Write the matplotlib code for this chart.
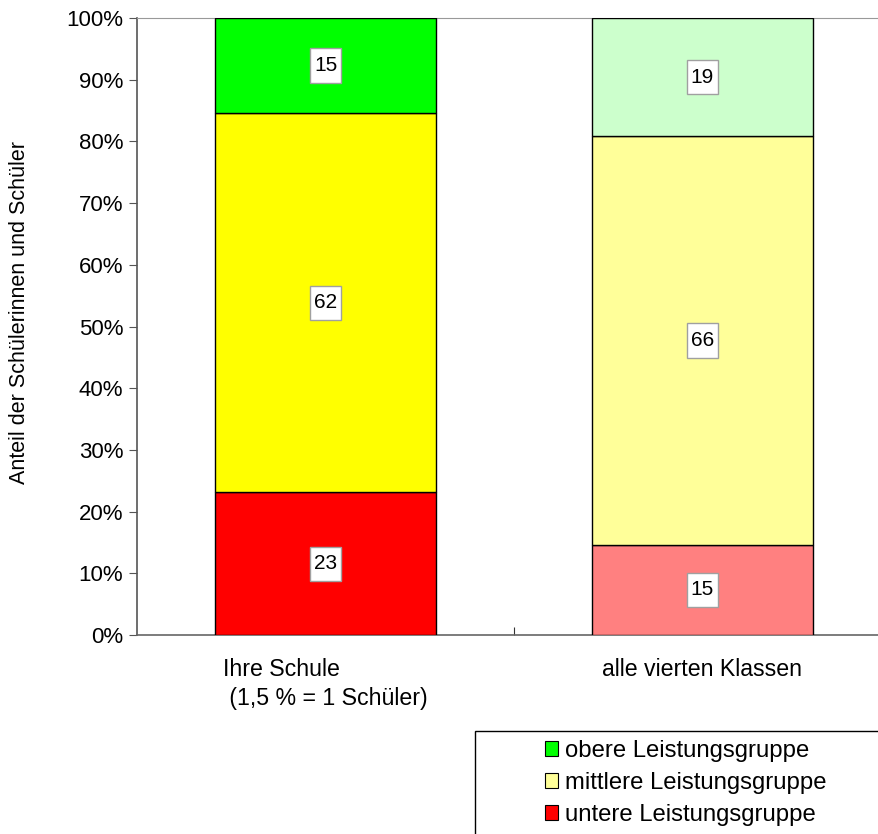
import matplotlib
matplotlib.use("Agg")
import matplotlib.pyplot as plt
from matplotlib.patches import Patch, Rectangle
from matplotlib.path import Path

plt.rcParams['font.family'] = ['Liberation Sans', 'DejaVu Sans']

categories = ["Ihre Schule\n (1,5 % = 1 Schüler)", "alle vierten Klassen"]
series_names = ["untere Leistungsgruppe", "mittlere Leistungsgruppe", "obere Leistungsgruppe"]
untere = [23.1, 14.6]
mittlere = [61.5, 66.2]
obere = [15.4, 19.2]
label_untere = ["23", "15"]
label_mittlere = ["62", "66"]
label_obere = ["15", "19"]
yticks = [0, 10, 20, 30, 40, 50, 60, 70, 80, 90, 100]
ytick_labels = [f"{v}%" for v in yticks]

colors_school = ["#FF0000", "#FFFF00", "#00FF00"]
colors_all = ["#FF8080", "#FFFF99", "#CCFFCC"]
legend_colors = {"obere Leistungsgruppe": "#00FF00",
                 "mittlere Leistungsgruppe": "#FFFF99",
                 "untere Leistungsgruppe": "#FF0000"}


def label_box(x0, y0, width, height, mutation_size):
    px = 0.19 * mutation_size
    py = 0.37 * mutation_size
    verts = [(x0 - px, y0 - py), (x0 + width + px, y0 - py),
             (x0 + width + px, y0 + height + py), (x0 - px, y0 + height + py),
             (x0 - px, y0 - py)]
    return Path(verts, closed=True)


W, H = 879, 834
fig = plt.figure(figsize=(W / 100, H / 100), dpi=100)
ax = fig.add_axes([137 / W, (H - 635) / H, (891 - 137) / W, (635 - 18) / H])

x = [0, 1]
width = 0.586
series = [untere, mittlere, obere]
labels = [label_untere, label_mittlere, label_obere]
for i in range(2):
    bottom = 0
    cols = colors_school if i == 0 else colors_all
    for s in range(3):
        val = series[s][i]
        ax.bar(x[i], val, width, bottom=bottom, color=cols[s], edgecolor="black",
               linewidth=1.0, zorder=3)
        bbox = dict(boxstyle=label_box, facecolor="white",
                    edgecolor="#A0A0A0", linewidth=1.0)
        ax.text(x[i], bottom + val / 2, labels[s][i], ha="center", va="center",
                fontsize=15, bbox=bbox, zorder=5)
        bottom += val

ax.set_xlim(-0.5, 1.5)
ax.set_ylim(0, 100)
ax.set_yticks(yticks)
ax.set_yticklabels(ytick_labels, fontsize=16)
ax.set_xticks([0.5])
ax.set_xticklabels([""])
ax.tick_params(axis="x", direction="in", length=6, color="#333333")
ax.tick_params(axis="y", direction="out", length=6, color="#555555", pad=4)
for i, c in enumerate(categories):
    ax.text(x[i], -3.8, c, ha="center", va="top", fontsize=16.7,
            multialignment="left", linespacing=1.3, transform=ax.transData)

ax.spines["left"].set_color("#555555")
ax.spines["left"].set_linewidth(1.2)
ax.spines["bottom"].set_color("#666666")
ax.spines["bottom"].set_linewidth(1.2)
ax.spines["top"].set_color("#999999")
ax.spines["right"].set_visible(False)

fig.text(20 / W, 1 - 312 / H, "Anteil der Schülerinnen und Schüler", rotation=90,
         ha="center", va="center", fontsize=15.5)

# legend box
fig.patches.append(Rectangle((475 / W, -0.1), 0.6, (1 - 731 / H) + 0.1,
                             transform=fig.transFigure, facecolor="white",
                             edgecolor="black", linewidth=1.0))
order = ["obere Leistungsgruppe", "mittlere Leistungsgruppe", "untere Leistungsgruppe"]
handles = [Patch(facecolor=legend_colors[n], edgecolor="black", linewidth=0.8) for n in order]
fig.legend(handles, order, loc="upper left", bbox_to_anchor=(545 / W, 1 - 740 / H),
           frameon=False, fontsize=17.2, handlelength=0.55, handleheight=0.55,
           handletextpad=0.3, labelspacing=0.42, borderpad=0, borderaxespad=0)

fig.savefig("out.png", dpi=100)
